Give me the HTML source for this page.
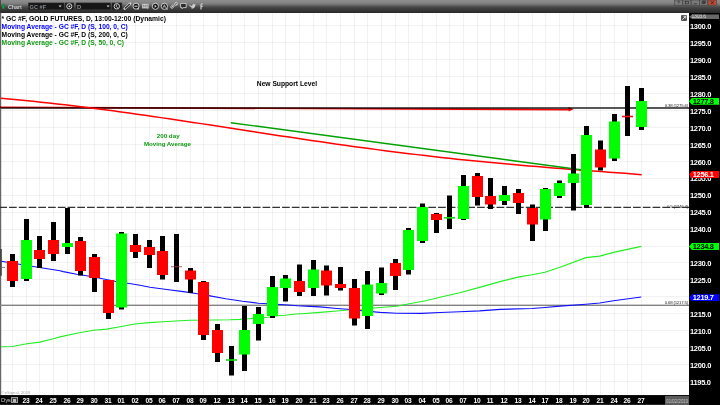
<!DOCTYPE html>
<html><head><meta charset="utf-8"><style>
*{margin:0;padding:0;box-sizing:border-box}
html,body{width:720px;height:405px;overflow:hidden;background:#000;font-family:"Liberation Sans",sans-serif}
#tb{position:absolute;left:0;top:0;width:720px;height:13px;background:linear-gradient(#8d8d8d 0px,#888 2px,#7b7b7b 4px,#6a6a6a 5px,#5a5a5a 6px,#4b4b4b 7px,#414141 8px,#383838 10px,#2f2f2f 12px,#262626 13px)}
.al{position:absolute;left:690px;font-size:7.5px;font-weight:bold;color:#fff;letter-spacing:-0.3px;line-height:9px;white-space:nowrap}
.lg{position:absolute;left:1.6px;font-size:6.7px;font-weight:bold;white-space:nowrap;line-height:8px}
.dl{position:absolute;top:395.6px;font-size:7.7px;font-weight:bold;color:#fff;letter-spacing:-0.3px;line-height:9px;white-space:nowrap;transform:translateX(-50%) scaleX(0.86)}
.an{position:absolute;font-weight:bold;white-space:nowrap;line-height:8px}
.fl{position:absolute;font-size:4.4px;color:#2a2a2a;white-space:nowrap;line-height:5px;letter-spacing:-0.22px}
.cp{position:absolute;font-size:4.2px;color:#a8a8a8;white-space:nowrap;line-height:5px}
#bx{position:absolute;left:0;top:395px;width:689px;height:10px;background:linear-gradient(#1c1c1c 0,#000 1.2px,#000 9px,#262626 9px)}
.dys{position:absolute;left:1.1px;top:396.2px;font-size:6.1px;color:#c8ccd0;line-height:8px;letter-spacing:-0.35px}
.dbox{position:absolute;left:11.2px;top:396.9px;width:6.8px;height:6px;background:#3a3a3a;border:0.8px solid #9a9a9a}
.dbox2{position:absolute;left:13.2px;top:398.6px;width:2.8px;height:3px;background:#bbb}
#dtb{position:absolute;left:665px;top:395.6px;width:24px;height:9.4px;background:#5c5c5c;color:#c4c4c4;font-size:4.6px;line-height:11px;text-align:center;letter-spacing:-0.1px}
#cic{position:absolute;left:681.3px;top:14.7px;width:6px;height:6px;background:#555;border-radius:1px}
.tt{position:absolute;font-size:5.7px;font-weight:bold;line-height:7px;white-space:nowrap}
.pb{position:absolute;left:689px;width:30px;height:7px;font-size:7.4px;font-weight:bold;line-height:7.4px;letter-spacing:-0.3px;padding-left:3.8px;clip-path:polygon(0 50%,3px 0,100% 0,100% 100%,3px 100%)}
</style></head><body>
<svg width="720" height="405" viewBox="0 0 720 405" style="position:absolute;left:0;top:0"><rect x="0" y="13" width="689" height="382" fill="#fff"/><g stroke="#000" stroke-opacity="0.05" stroke-width="1" fill="none" shape-rendering="crispEdges"><path d="M12.5 13V395"/><path d="M26.5 13V395"/><path d="M39.5 13V395"/><path d="M53.5 13V395"/><path d="M67.5 13V395"/><path d="M80.5 13V395"/><path d="M94.5 13V395"/><path d="M108.5 13V395"/><path d="M121.5 13V395"/><path d="M135.5 13V395"/><path d="M149.5 13V395"/><path d="M162.5 13V395"/><path d="M176.5 13V395"/><path d="M190.5 13V395"/><path d="M203.5 13V395"/><path d="M217.5 13V395"/><path d="M231.5 13V395"/><path d="M244.5 13V395"/><path d="M258.5 13V395"/><path d="M272.5 13V395"/><path d="M285.5 13V395"/><path d="M299.5 13V395"/><path d="M313.5 13V395"/><path d="M326.5 13V395"/><path d="M340.5 13V395"/><path d="M354.5 13V395"/><path d="M367.5 13V395"/><path d="M381.5 13V395"/><path d="M395.5 13V395"/><path d="M408.5 13V395"/><path d="M422.5 13V395"/><path d="M436.5 13V395"/><path d="M449.5 13V395"/><path d="M463.5 13V395"/><path d="M477.5 13V395"/><path d="M490.5 13V395"/><path d="M504.5 13V395"/><path d="M518.5 13V395"/><path d="M532.5 13V395"/><path d="M545.5 13V395"/><path d="M559.5 13V395"/><path d="M573.5 13V395"/><path d="M586.5 13V395"/><path d="M600.5 13V395"/><path d="M614.5 13V395"/><path d="M627.5 13V395"/><path d="M641.5 13V395"/><path d="M0 25.5H689"/><path d="M0 42.5H689"/><path d="M0 59.5H689"/><path d="M0 76.5H689"/><path d="M0 93.5H689"/><path d="M0 110.5H689"/><path d="M0 127.5H689"/><path d="M0 144.5H689"/><path d="M0 161.5H689"/><path d="M0 178.5H689"/><path d="M0 195.5H689"/><path d="M0 212.5H689"/><path d="M0 229.5H689"/><path d="M0 246.5H689"/><path d="M0 262.5H689"/><path d="M0 279.5H689"/><path d="M0 296.5H689"/><path d="M0 313.5H689"/><path d="M0 330.5H689"/><path d="M0 347.5H689"/><path d="M0 364.5H689"/><path d="M0 381.5H689"/></g><rect x="0" y="13" width="1.2" height="382" fill="#666"/><rect x="0" y="249" width="1.8" height="26.7" fill="#454545"/><rect x="1.5" y="266.9" width="3.6" height="1" fill="#8a8a8a"/><rect x="0" y="107" width="689" height="2" fill="#575757"/><rect x="0" y="304.6" width="689" height="1.4" fill="#838383"/><path d="M0 207.45H689" stroke="#333" stroke-width="1.25" stroke-dasharray="7.7 2.05" stroke-dashoffset="0.69"/><polyline points="1.2,346.7 12.5,346.5 26.7,343.75 40,342.1 53.3,338.75 60,336.9 76.7,333.25 93.3,330.3 106.7,329.1 120,326.75 135,324 149.2,322.6 163.3,321.75 180,320.7 190,320.25 213.3,320 230,319.8 240,319.4 248.5,318.75 267.7,317.3 277.7,315.8 285,315.3 296,314 301.7,313.7 320,312.4 336.7,311 347.5,310 361.7,309.3 380,307.5 396.7,306.25 409.2,303.75 425.8,300.8 440,297.25 459.7,292.8 479.5,287.4 500,281.6 519.3,276.9 532.1,274.8 544.9,272.2 560,267.3 585.9,257.6 599.7,256.1 613.5,252.4 641.2,246.4" fill="none" stroke="#22ee22" stroke-width="1.15"/><polyline points="1.2,261.25 19.2,264.3 33.3,266.5 45.8,268.5 60,270.8 63.3,271.6 76.7,274.25 90,276.3 100,278.25 115,281.2 127.9,283.25 140,285.3 150,287.3 166.7,289.5 183.3,291.6 197.5,293.8 210,295.9 225.8,298.8 242.5,301.3 258.3,303.2 285,304.75 297.5,305.8 310,306.4 320,306.9 336.7,308.5 347.5,309.3 361.7,310.8 380,312.4 396.7,313.2 421.7,313.3 440,312.5 459.7,311.8 479.5,310.9 500,309.4 532,308.5 544.9,307.5 560,306.1 585.9,304.2 599.7,303 613.5,300.8 641.2,297" fill="none" stroke="#1010ff" stroke-width="1.15"/><polyline points="1.0,98.37 9.0,99.06 17.0,99.79 25.0,100.55 33.0,101.34 41.0,102.17 49.0,103.02 57.0,103.91 65.0,104.82 73.0,105.76 81.0,106.73 89.0,107.73 97.0,108.74 105.0,109.79 113.0,110.85 121.0,111.93 129.0,113.04 137.0,114.16 145.0,115.3 153.0,116.45 161.0,117.62 169.0,118.8 177.0,120.0 185.0,121.2 193.0,122.41 201.0,123.63 209.0,124.85 217.0,126.08 225.0,127.31 233.0,128.54 241.0,129.78 249.0,131.01 257.0,132.24 265.0,133.47 273.0,134.69 281.0,135.9 289.0,137.11 297.0,138.31 305.0,139.5 313.0,140.68 321.0,141.85 329.0,143.01 337.0,144.15 345.0,145.27 353.0,146.39 361.0,147.48 369.0,148.56 377.0,149.62 385.0,150.66 393.0,151.68 401.0,152.68 409.0,153.67 417.0,154.63 425.0,155.57 433.0,156.49 441.0,157.39 449.0,158.27 457.0,159.13 465.0,159.96 473.0,160.78 481.0,161.58 489.0,162.35 497.0,163.11 505.0,163.84 513.0,164.56 521.0,165.26 529.0,165.95 537.0,166.62 545.0,167.27 553.0,167.91 561.0,168.54 569.0,169.16 577.0,169.77 585.0,170.38 593.0,170.98 601.0,171.57 609.0,172.17 617.0,172.77 625.0,173.37 633.0,173.97 641.7,174.65" fill="none" stroke="#ff0000" stroke-width="1.5"/><path d="M230.8 122.7L580.7 169.75" stroke="#00a000" stroke-width="1.4"/><g style="mix-blend-mode:multiply"><path d="M0 107.3L569 109.58" stroke="#ff0000" stroke-width="1.6"/><path d="M568.6 107.1L573.6 109.3L568.6 111.5Z" fill="#ff0000"/></g><rect x="10.0" y="254" width="5" height="33" fill="#000"/><rect x="7.0" y="261" width="11" height="20" fill="#ff0000"/><rect x="24.0" y="219" width="5" height="62" fill="#000"/><rect x="21.0" y="240" width="11" height="39" fill="#00ff00"/><rect x="37.0" y="236" width="5" height="32" fill="#000"/><rect x="34.0" y="250" width="11" height="9" fill="#ff0000"/><rect x="51.0" y="222" width="5" height="39" fill="#000"/><rect x="48.0" y="240" width="11" height="14" fill="#ff0000"/><rect x="65.0" y="208" width="5" height="46" fill="#000"/><rect x="62.0" y="243" width="11" height="4" fill="#00ff00"/><rect x="78.0" y="237" width="5" height="38.5" fill="#000"/><rect x="75.0" y="241" width="11" height="30" fill="#ff0000"/><rect x="92.0" y="254" width="5" height="38" fill="#000"/><rect x="89.0" y="257" width="11" height="21" fill="#ff0000"/><rect x="106.0" y="280" width="5" height="39" fill="#000"/><rect x="103.0" y="280" width="11" height="33" fill="#ff0000"/><rect x="119.0" y="232" width="5" height="77.5" fill="#000"/><rect x="116.0" y="233.5" width="11" height="74.0" fill="#00ff00"/><rect x="133.0" y="234" width="5" height="24" fill="#000"/><rect x="130.0" y="245" width="11" height="7" fill="#ff0000"/><rect x="147.0" y="240" width="5" height="28" fill="#000"/><rect x="144.0" y="247" width="11" height="8" fill="#ff0000"/><rect x="160.0" y="236" width="5" height="43.5" fill="#000"/><rect x="157.0" y="251" width="11" height="24" fill="#ff0000"/><rect x="174.0" y="234" width="5" height="48" fill="#000"/><rect x="171.0" y="266.2" width="11" height="1.0" fill="#a03c3c" opacity="0.8"/><rect x="188.0" y="268" width="5" height="25" fill="#000"/><rect x="185.0" y="270.5" width="11" height="9.0" fill="#ff0000"/><rect x="201.0" y="281" width="5" height="59" fill="#000"/><rect x="198.0" y="282" width="11" height="53" fill="#ff0000"/><rect x="215.0" y="324" width="5" height="38" fill="#000"/><rect x="212.0" y="330" width="11" height="23" fill="#ff0000"/><rect x="229.0" y="346" width="5" height="29.5" fill="#000"/><rect x="226.0" y="359.2" width="11" height="1.6000000000000227" fill="#11dd11"/><rect x="242.0" y="306" width="5" height="65" fill="#000"/><rect x="239.0" y="330" width="11" height="24.5" fill="#00ff00"/><rect x="256.0" y="307" width="5" height="33.5" fill="#000"/><rect x="253.0" y="314" width="11" height="10" fill="#00ff00"/><rect x="270.0" y="276" width="5" height="42" fill="#000"/><rect x="267.0" y="287" width="11" height="29" fill="#00ff00"/><rect x="283.0" y="275" width="5" height="26.5" fill="#000"/><rect x="280.0" y="278.5" width="11" height="9.5" fill="#00ff00"/><rect x="297.0" y="264.5" width="5" height="31.5" fill="#000"/><rect x="294.0" y="281" width="11" height="11" fill="#ff0000"/><rect x="311.0" y="260" width="5" height="36" fill="#000"/><rect x="308.0" y="269.5" width="11" height="18.5" fill="#00ff00"/><rect x="324.0" y="265.5" width="5" height="30.0" fill="#000"/><rect x="321.0" y="270.5" width="11" height="15.0" fill="#ff0000"/><rect x="338.0" y="267" width="5" height="23.5" fill="#000"/><rect x="335.0" y="284" width="11" height="4" fill="#ff0000"/><rect x="352.0" y="279" width="5" height="46.5" fill="#000"/><rect x="349.0" y="288" width="11" height="30.5" fill="#ff0000"/><rect x="365.0" y="271" width="5" height="58" fill="#000"/><rect x="362.0" y="284.5" width="11" height="31.5" fill="#00ff00"/><rect x="379.0" y="267.5" width="5" height="27.5" fill="#000"/><rect x="376.0" y="283" width="11" height="10.5" fill="#00ff00"/><rect x="393.0" y="259" width="5" height="31" fill="#000"/><rect x="390.0" y="263" width="11" height="13" fill="#ff0000"/><rect x="406.0" y="228" width="5" height="46.5" fill="#000"/><rect x="403.0" y="230" width="11" height="40" fill="#00ff00"/><rect x="420.0" y="203.5" width="5" height="39.5" fill="#000"/><rect x="417.0" y="207" width="11" height="34" fill="#00ff00"/><rect x="434.0" y="213" width="5" height="20" fill="#000"/><rect x="431.0" y="214" width="11" height="6" fill="#ff0000"/><rect x="447.0" y="195.5" width="5" height="33.5" fill="#000"/><rect x="444.0" y="217" width="11" height="1.5999999999999943" fill="#11dd11"/><rect x="461.0" y="175" width="5" height="45" fill="#000"/><rect x="458.0" y="186" width="11" height="33" fill="#00ff00"/><rect x="475.0" y="173" width="5" height="32.5" fill="#000"/><rect x="472.0" y="176" width="11" height="21" fill="#ff0000"/><rect x="488.0" y="178" width="5" height="31" fill="#000"/><rect x="485.0" y="196" width="11" height="8.5" fill="#ff0000"/><rect x="502.0" y="186" width="5" height="19" fill="#000"/><rect x="499.0" y="195" width="11" height="6" fill="#00ff00"/><rect x="516.0" y="189" width="5" height="25" fill="#000"/><rect x="513.0" y="193" width="11" height="10" fill="#ff0000"/><rect x="530.0" y="204.5" width="5" height="36.5" fill="#000"/><rect x="527.0" y="208" width="11" height="16.5" fill="#ff0000"/><rect x="543.0" y="188" width="5" height="43" fill="#000"/><rect x="540.0" y="189" width="11" height="30.5" fill="#00ff00"/><rect x="557.0" y="180.5" width="5" height="17.5" fill="#000"/><rect x="554.0" y="183" width="11" height="13" fill="#00ff00"/><rect x="571.0" y="154" width="5" height="56.5" fill="#000"/><rect x="568.0" y="173.5" width="11" height="9.5" fill="#00ff00"/><rect x="584.0" y="126" width="5" height="82" fill="#000"/><rect x="581.0" y="135" width="11" height="70" fill="#00ff00"/><rect x="598.0" y="140.5" width="5" height="30.0" fill="#000"/><rect x="595.0" y="149.5" width="11" height="18.0" fill="#ff0000"/><rect x="612.0" y="114" width="5" height="47" fill="#000"/><rect x="609.0" y="121.5" width="11" height="37.0" fill="#00ff00"/><rect x="625.0" y="86" width="5" height="50" fill="#000"/><rect x="622.0" y="115.7" width="11" height="1.5999999999999943" fill="#ee1111"/><rect x="639.0" y="88" width="5" height="42" fill="#000"/><rect x="636.0" y="101" width="11" height="26" fill="#00ff00"/></svg>
<div id="tb"></div>
<div class="al" style="top:21.9px">1300.0</div><div class="al" style="top:38.8px">1295.0</div><div class="al" style="top:55.8px">1290.0</div><div class="al" style="top:72.7px">1285.0</div><div class="al" style="top:89.7px">1280.0</div><div class="al" style="top:106.6px">1275.0</div><div class="al" style="top:123.6px">1270.0</div><div class="al" style="top:140.5px">1265.0</div><div class="al" style="top:157.5px">1260.0</div><div class="al" style="top:174.4px">1255.0</div><div class="al" style="top:191.4px">1250.0</div><div class="al" style="top:208.3px">1245.0</div><div class="al" style="top:225.3px">1240.0</div><div class="al" style="top:259.2px">1230.0</div><div class="al" style="top:276.1px">1225.0</div><div class="al" style="top:310.0px">1215.0</div><div class="al" style="top:327.0px">1210.0</div><div class="al" style="top:343.9px">1205.0</div><div class="al" style="top:360.9px">1200.0</div><div class="al" style="top:377.8px">1195.0</div>

<div class="lg" style="top:14.6px;left:1.6px;color:#000;font-size:6.76px">* GC #F, GOLD FUTURES, D, 13:00-12:00 (Dynamic)</div>
<div class="lg" style="top:23.3px;color:#0000ff">Moving Average - GC #F, D (S, 100, 0, C)</div>
<div class="lg" style="top:31.2px;color:#000">Moving Average - GC #F, D (S, 200, 0, C)</div>
<div class="lg" style="top:39.0px;color:#159a15">Moving Average - GC #F, D (S, 50, 0, C)</div>
<div class="an" style="left:256.8px;top:80.4px;font-size:6.7px;color:#000">New Support Level</div>
<div class="an" style="left:156.7px;top:132px;font-size:6.25px;color:#109c10">200 day</div>
<div class="an" style="left:143.9px;top:139.6px;font-size:6.15px;color:#109c10">Moving Average</div>
<div class="fl" style="top:102.9px;right:32px">0.38 (1275.6)</div>
<div class="fl" style="top:203.5px;right:32px">0.5 (1246.4)</div>
<div class="fl" style="top:300.2px;right:32px">0.68 (1217.5)</div>
<div class="cp" style="left:1.6px;top:389.9px">&copy;eSignal, 2018</div>

<div id="bx"></div><div class="dl" style="left:25.7px">23</div><div class="dl" style="left:38.7px">24</div><div class="dl" style="left:52.7px">25</div><div class="dl" style="left:66.7px">26</div><div class="dl" style="left:79.7px">29</div><div class="dl" style="left:93.7px">30</div><div class="dl" style="left:107.7px">31</div><div class="dl" style="left:120.7px">01</div><div class="dl" style="left:134.7px">02</div><div class="dl" style="left:148.7px">05</div><div class="dl" style="left:161.7px">06</div><div class="dl" style="left:175.7px">07</div><div class="dl" style="left:189.7px">08</div><div class="dl" style="left:202.7px">09</div><div class="dl" style="left:216.7px">12</div><div class="dl" style="left:230.7px">13</div><div class="dl" style="left:243.7px">14</div><div class="dl" style="left:257.7px">15</div><div class="dl" style="left:271.7px">16</div><div class="dl" style="left:284.7px">19</div><div class="dl" style="left:298.7px">20</div><div class="dl" style="left:312.7px">21</div><div class="dl" style="left:325.7px">23</div><div class="dl" style="left:339.7px">26</div><div class="dl" style="left:353.7px">27</div><div class="dl" style="left:366.7px">28</div><div class="dl" style="left:380.7px">29</div><div class="dl" style="left:394.7px">30</div><div class="dl" style="left:407.7px">03</div><div class="dl" style="left:421.7px">04</div><div class="dl" style="left:435.7px">05</div><div class="dl" style="left:448.7px">06</div><div class="dl" style="left:462.7px">07</div><div class="dl" style="left:476.7px">10</div><div class="dl" style="left:489.7px">11</div><div class="dl" style="left:503.7px">12</div><div class="dl" style="left:517.7px">13</div><div class="dl" style="left:531.7px">14</div><div class="dl" style="left:544.7px">17</div><div class="dl" style="left:558.7px">18</div><div class="dl" style="left:572.7px">19</div><div class="dl" style="left:585.7px">20</div><div class="dl" style="left:599.7px">21</div><div class="dl" style="left:613.7px">24</div><div class="dl" style="left:626.7px">26</div><div class="dl" style="left:640.7px">27</div><div class="dys">Dys</div><div class="dbox"></div><div class="dbox2"></div><div id="dtb">01/02/2019</div>

<div class="pb" style="top:14.4px;height:4.7px;background:#686868;color:#e0e0e0;font-size:5.1px;line-height:5.5px;font-weight:normal;letter-spacing:-0.2px;padding-left:2.4px">1303.6</div>
<div class="pb" style="top:97.8px;background:#00ff00;color:#000">1277.8</div>
<div class="pb" style="top:171px;background:#ff0000;color:#fff">1256.1</div>
<div class="pb" style="top:243px;background:#00ff00;color:#000">1234.8</div>
<div class="pb" style="top:294.2px;background:#0000ff;color:#fff">1219.7</div>
<div id="cic"></div><svg width="6" height="6" style="position:absolute;left:681.3px;top:14.7px"><path d="M1.3 4.7L4.6 1.4M2.6 1.3h2.1v2.1" fill="none" stroke="#eee" stroke-width="0.9"/></svg>


<svg width="720" height="13" style="position:absolute;left:0;top:0">
<rect x="0" y="0" width="0.8" height="13" fill="#3a3a3a"/><rect x="2.2" y="4.1" width="2.3" height="4.8" rx="0.9" fill="#10a83a" stroke="#2a4a2a" stroke-width="0.4"/>
<rect x="28.3" y="2.9" width="35.8" height="6.9" fill="#161616" stroke="#3a3a3a" stroke-width="0.5"/>
<path d="M58.6 5.6h3l-1.5 1.6z" fill="#ddd"/>
<rect x="65" y="2.9" width="8.9" height="6.9" fill="#1a1a1a" stroke="#3a3a3a" stroke-width="0.5"/>
<circle cx="69.3" cy="6.3" r="2.6" fill="none" stroke="#e8e8e8" stroke-width="0.9"/>
<path d="M68 6.3l2.2-1.1v2.2z" fill="#e8e8e8"/>
<rect x="76" y="2.9" width="34.8" height="6.9" fill="#161616" stroke="#3a3a3a" stroke-width="0.5"/>
<path d="M106.6 5.6h3l-1.5 1.6z" fill="#ddd"/>
<rect x="111.9" y="2.9" width="10" height="6.9" fill="#1a1a1a" stroke="#3a3a3a" stroke-width="0.5"/>
<circle cx="116.8" cy="6.3" r="2.7" fill="none" stroke="#e8e8e8" stroke-width="0.9"/>
<path d="M116.4 4.6v1.9l1.3 1.3" fill="none" stroke="#e8e8e8" stroke-width="0.8"/>
<path d="M124.7 8.7L130.1 3.7" stroke="#d8d8d8" stroke-width="2.5" stroke-linecap="round"/>
<path d="M124.9 8.5L129.9 3.9" stroke="#1a1a1a" stroke-width="1.1"/>
<circle cx="136" cy="6.2" r="3" fill="#141414" stroke="#ddd" stroke-width="0.9"/>
<rect x="134.4" y="5.7" width="3.2" height="1" fill="#ddd"/>
<rect x="137.6" y="8.3" width="1.2" height="1.2" fill="#eee"/>
<rect x="142" y="3.8" width="6.8" height="4.6" fill="#c8c8c8"/>
<path d="M143.2 7.4V5l1.4 1.4L146 5v2.4M147.2 5h0.8v2.4" fill="none" stroke="#666" stroke-width="0.6"/>
<path d="M146.8 8.4l1.2 1.1v-1.1z" fill="#c8c8c8"/>
<circle cx="155.4" cy="6.3" r="3.1" fill="#141414" stroke="#ddd" stroke-width="0.9"/>
<path d="M154.6 4.8v3l2.1-1.5z" fill="#ddd"/>
<circle cx="164.4" cy="6.3" r="3.1" fill="#141414" stroke="#ddd" stroke-width="0.9"/>
<path d="M163 7.8l1.4-3.2 1.4 3.2M163.6 6.8h1.6" fill="none" stroke="#ddd" stroke-width="0.7"/>
<rect x="166.5" y="8.5" width="1.2" height="1.1" fill="#eee"/>
<path d="M171.6 7.4l1.6-1.6M175.6 3.6l1.4 1.4" stroke="#ccc" stroke-width="1"/>
<rect x="170.6" y="5.4" width="3.4" height="2.6" rx="1.2" transform="rotate(-45 172.3 6.7)" fill="none" stroke="#ccc" stroke-width="0.9"/>
<rect x="174.2" y="2.6" width="3.4" height="2.6" rx="1.2" transform="rotate(-45 175.9 3.9)" fill="none" stroke="#ccc" stroke-width="0.9"/>
<path d="M180.6 3.4h5.6v4.2h-3l-1.2 1.1v-1.1h-1.4z" fill="#2a2a2a" stroke="#ddd" stroke-width="0.8"/>
<path d="M189.2 4.6c1 1 2 1.5 3 1.4c-0.1-1.6 1.4-2.4 2.6-1.6l0.9-0.4l-0.4 0.9c0 2.4-2.1 4.3-4.6 3.7c1-0.1 1.6-0.5 2-0.9c-1.2 0-1.9-0.5-2.3-1.3c-0.8-0.3-1.3-1-1.2-1.8z" fill="#cfcfcf"/>
<path d="M200.4 9.6V5.2c0-1.4 0.8-2.2 2.3-2V4.3c-0.8-0.1-1.1 0.3-1.1 0.9v0.6h1.1v1.1h-1.1v2.7z" fill="#cfcfcf"/>
<g stroke="#3a3a3a" stroke-width="0.5">
<rect x="674.5" y="0" width="8" height="5.2" fill="#7a7a7a"/>
<rect x="682.9" y="0" width="8" height="5.2" fill="#7a7a7a"/>
<rect x="691.3" y="0" width="8" height="5.2" fill="#7a7a7a"/>
<rect x="699.7" y="0" width="8" height="5.2" fill="#7a7a7a"/>
<rect x="708.1" y="0" width="8.6" height="5.2" fill="#c24a36"/>
</g>
<path d="M677.6 1.5c0.3-0.6 1.9-0.6 1.9 0.3c0 0.7-0.9 0.7-0.9 1.4M678.6 3.8v0.4" fill="none" stroke="#222" stroke-width="0.6"/>
<rect x="685.2" y="1.3" width="3.4" height="2.6" fill="none" stroke="#222" stroke-width="0.6"/>
<path d="M693.6 3.8h3.4" stroke="#222" stroke-width="0.7"/>
<rect x="702" y="1.8" width="2.6" height="2" fill="none" stroke="#222" stroke-width="0.6"/>
<rect x="703" y="1" width="2.6" height="2" fill="none" stroke="#222" stroke-width="0.6"/>
<path d="M710.8 1.2l3 2.8M713.8 1.2l-3 2.8" stroke="#222" stroke-width="0.8"/>
</svg>
<div class="tt" style="left:7.9px;top:3.6px;color:#cfd2d6;font-size:5.3px">Chart</div>
<div class="tt" style="left:29.6px;top:3.7px;color:#868b92;font-size:5.6px">GC #F</div>
<div class="tt" style="left:77.1px;top:3.7px;color:#8d9299;font-size:5.8px">D</div>

</body></html>
